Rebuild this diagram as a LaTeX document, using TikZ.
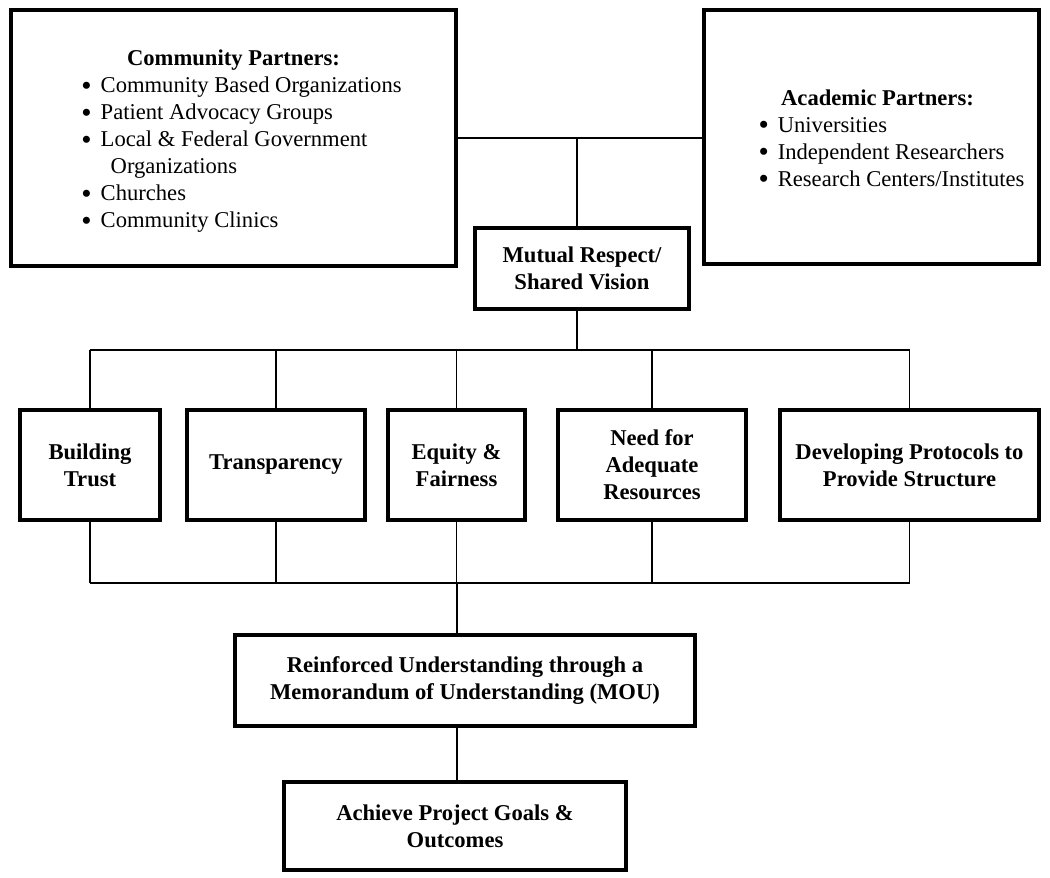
\documentclass[tikz,border=0pt]{standalone}
\usepackage{fontspec}
\setmainfont{Liberation Serif}
\newcommand{\itemdot}{\raisebox{-0.25ex}{\scalebox{1.3}{\textbullet}}}

\begin{document}
\begin{tikzpicture}[x=0.5pt,y=-0.5pt,
  box/.style={draw,line width=2pt,align=center,inner sep=0pt,
    font=\fontsize{11.3}{13.5}\selectfont\bfseries},
  listbox/.style={draw,line width=2pt,inner sep=0pt,
    font=\fontsize{11.3}{13.5}\selectfont},
  link/.style={line width=0.75pt}]
\useasboundingbox (0,0) rectangle (1050,878);

%partnerji
\node[listbox,minimum width=222.5pt,minimum height=128pt] (comm) at (233.5,137.5)
  {\raisebox{-2pt}[\height][\depth]{\begin{tabular}{@{\hspace{8pt}}c@{\hspace{4.5pt}}l@{}}
   \multicolumn{2}{c}{\bfseries Community Partners:}\\
   \itemdot & Community Based Organizations\\
   \itemdot & Patient Advocacy Groups\\
   \itemdot & Local \& Federal Government\\
            & \hspace{5pt}Organizations\\
   \itemdot & Churches\\
   \itemdot & Community Clinics
   \end{tabular}}};
\node[listbox,minimum width=167.5pt,minimum height=127pt] (acad) at (871.5,136.5)
  {\raisebox{-2pt}[\height][\depth]{\begin{tabular}{@{\hspace{20pt}}c@{\hspace{4.5pt}}l@{}}
   \multicolumn{2}{@{\hspace{12pt}}c}{\bfseries Academic Partners:}\\
   \itemdot & Universities\\
   \itemdot & Independent Researchers\\
   \itemdot & Research Centers/Institutes
   \end{tabular}}};
\node[box,minimum width=107pt,minimum height=40.5pt] (mutual) at (582,268.5)
  {Mutual Respect/\\Shared Vision};

%vrsta vrednot
\node[box,minimum width=70pt,minimum height=55pt] (trust) at (90,465) {Building\\Trust};
\node[box,minimum width=89pt,minimum height=55pt] (transp) at (276,465) {Transparency};
\node[box,minimum width=68.5pt,minimum height=55pt] (equity) at (456.5,465) {Equity \&\\Fairness};
\node[box,minimum width=94pt,minimum height=55pt] (need) at (652,465) {Need for\\Adequate\\Resources};
\node[box,minimum width=129.5pt,minimum height=55pt] (proto) at (909.5,465)
  {Developing Protocols to\\Provide Structure};

%rezultat
\node[box,minimum width=230pt,minimum height=45.5pt] (mou) at (465,680.5)
  {Reinforced Understanding through a\\Memorandum of Understanding (MOU)};
\node[box,minimum width=171pt,minimum height=44pt] (goals) at (455,826)
  {Achieve Project Goals \&\\Outcomes};

%povezave zgoraj
\coordinate (top) at (577,138);
\coordinate (split) at (577,350);
\coordinate (join) at (457,583);
\draw[link] (comm.east |- top)--(acad.west |- top);
\draw[link] (top)--(top |- mutual.north);
\draw[link] (split |- mutual.south)--(split);
\draw[link] (trust.north |- split)--(proto.north |- split);
\foreach \n in {trust,transp,equity,need,proto}
  \draw[link] (\n.north |- split)--(\n.north);

%povezave spodaj
\draw[link] (trust.south |- join)--(proto.south |- join);
\foreach \n in {trust,transp,equity,need,proto}
  \draw[link] (\n.south)--(\n.south |- join);
\draw[link] (join)--(join |- mou.north);
\draw[link] (join |- mou.south)--(join |- goals.north);

\end{tikzpicture}
\end{document}
